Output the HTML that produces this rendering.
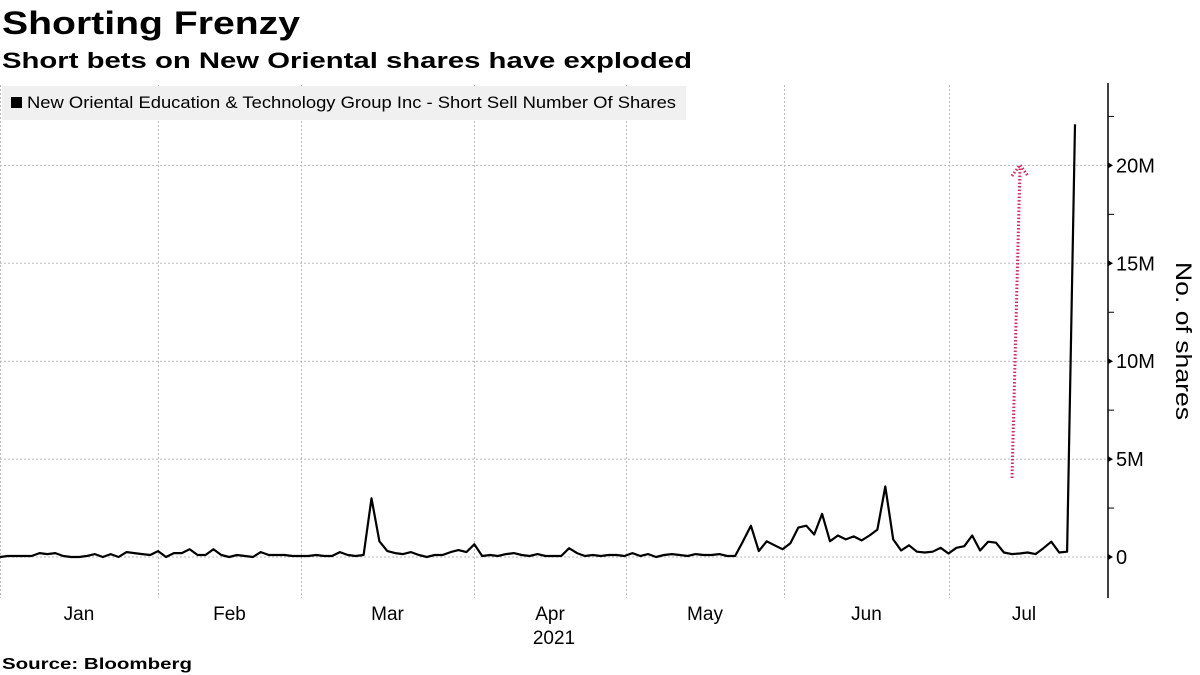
<!DOCTYPE html>
<html><head><meta charset="utf-8"><style>
body{margin:0;background:#fff;width:1200px;height:675px;overflow:hidden;font-family:"Liberation Sans",sans-serif}
svg{display:block}
</style></head><body>
<svg width="1200" height="675">
<text x="2" y="34" font-size="32" font-weight="bold" textLength="298" lengthAdjust="spacingAndGlyphs">Shorting Frenzy</text>
<text x="2" y="68" font-size="22" font-weight="bold" textLength="690" lengthAdjust="spacingAndGlyphs">Short bets on New Oriental shares have exploded</text>
<g id="grid"></g>
<g id="axes"></g>
<rect x="2" y="86" width="684" height="34" fill="#f0f0f0"/>
<rect x="11" y="97" width="11" height="11" fill="#000"/>
<text x="27" y="108" font-size="17" textLength="649" lengthAdjust="spacingAndGlyphs">New Oriental Education &amp; Technology Group Inc - Short Sell Number Of Shares</text>
<g id="series"></g>
<g stroke="#e0245e" stroke-width="3" fill="none" stroke-dasharray="1.5,2">
<line x1="1012" y1="478" x2="1020" y2="168"/>
<path d="M1012,176 L1020,165 L1028,176"/>
</g>
<text transform="translate(1176,341) rotate(90)" text-anchor="middle" font-size="22" textLength="158" lengthAdjust="spacingAndGlyphs">No. of shares</text>
<text x="2" y="669" font-size="16" font-weight="bold" textLength="190" lengthAdjust="spacingAndGlyphs">Source: Bloomberg</text>
</svg>
<script>
const values=[0,0.05,0.05,0.05,0.05,0.2,0.15,0.2,0.05,0,0,0.05,0.15,0,0.15,0,0.25,0.2,0.15,0.1,0.3,0,0.2,0.2,0.4,0.1,0.1,0.4,0.1,0,0.1,0.05,0,0.25,0.1,0.1,0.1,0.05,0.05,0.05,0.1,0.05,0.05,0.25,0.1,0.05,0.1,3.0,0.8,0.3,0.2,0.15,0.25,0.1,0,0.1,0.1,0.25,0.35,0.25,0.65,0.05,0.1,0.05,0.15,0.2,0.1,0.05,0.15,0.05,0.05,0.05,0.45,0.2,0.05,0.1,0.05,0.1,0.1,0.05,0.2,0.05,0.15,0,0.1,0.15,0.1,0.05,0.15,0.1,0.1,0.15,0.05,0.05,0.8,1.6,0.3,0.8,0.6,0.4,0.7,1.5,1.6,1.15,2.2,0.8,1.1,0.9,1.05,0.85,1.1,1.4,3.6,0.9,0.33,0.6,0.27,0.23,0.27,0.47,0.18,0.47,0.55,1.1,0.33,0.78,0.73,0.23,0.15,0.18,0.23,0.15,0.45,0.78,0.23,0.27,22.1];
const yTicks=[0,5,10,15,20];
const yTickLabels=["0","5M","10M","15M","20M"];
const months=["Jan","Feb","Mar","Apr","May","Jun","Jul"];
const monthStarts=[0,158,301,474,626,784,949];
const NS="http://www.w3.org/2000/svg";
const y=v=>557-v*19.58;
const x=i=>i*1075/(values.length-1);
function mk(t,a,p){const e=document.createElementNS(NS,t);for(const k in a)e.setAttribute(k,a[k]);p.appendChild(e);return e;}
const grid=document.getElementById('grid'),axes=document.getElementById('axes'),series=document.getElementById('series');
yTicks.forEach((v,i)=>{
 const l=mk('line',{x1:0,x2:1107,y1:y(v),y2:y(v),stroke:'#bbb','stroke-dasharray':'2,2'},grid);
 
 
 const t=mk('text',{x:1116,y:y(v)+7,'font-size':20},axes);t.textContent=yTickLabels[i];
 
 
 mk('path',{d:`M1108,${y(v)-3} L1113,${y(v)} L1108,${y(v)+3}Z`,fill:'#000'},axes);
 mk('line',{x1:1108,x2:1114,y1:y(v+2.5),y2:y(v+2.5),stroke:'#000'},axes);
});
months.forEach((m,i)=>{
 const gx=monthStarts[i];
 const l=mk('line',{x1:gx+0.5,x2:gx+0.5,y1:85,y2:598,stroke:'#bbb','stroke-dasharray':'2,2'},grid);
 
 
 const nx=i<months.length-1?monthStarts[i+1]:1107;
 const t=mk('text',{x:(gx+nx)/2+(i==6?-4:0),y:620,'font-size':19,'text-anchor':'middle'},axes);t.textContent=m;
 
 
});
const yr=mk('text',{x:554,y:644,'font-size':19,'text-anchor':'middle'},axes);yr.textContent='2021';


const ax=mk('line',{x1:1108,x2:1108,y1:83,y2:598,stroke:'#000','stroke-width':1.5},axes);


const p=mk('polyline',{points:values.map((v,i)=>x(i).toFixed(1)+','+y(v).toFixed(1)).join(' '),fill:'none',stroke:'#000','stroke-width':2.2,'stroke-linejoin':'round'},series);


</script>
</body></html>
